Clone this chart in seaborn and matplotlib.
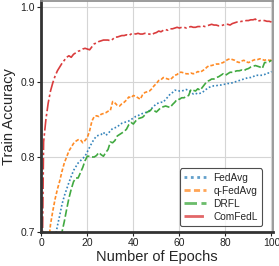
import numpy as np
import pandas as pd
import matplotlib
matplotlib.use("Agg")
import matplotlib.pyplot as plt
import seaborn as sns

# epochs 0..100
epochs = list(range(101))

fedavg = [
    0.500, 0.550, 0.590, 0.620, 0.650, 0.670, 0.692, 0.708, 0.722, 0.737,
    0.748, 0.757, 0.766, 0.774, 0.782, 0.787, 0.792, 0.795, 0.798, 0.801,
    0.807, 0.813, 0.819, 0.824, 0.828, 0.829, 0.830, 0.833, 0.829, 0.831,
    0.835, 0.838, 0.839, 0.840, 0.843, 0.845, 0.846, 0.847, 0.848, 0.850,
    0.852, 0.854, 0.855, 0.857, 0.858, 0.859, 0.860, 0.862, 0.865, 0.868,
    0.871, 0.872, 0.873, 0.873, 0.877, 0.880, 0.884, 0.886, 0.889, 0.889,
    0.888, 0.888, 0.889, 0.890, 0.889, 0.887, 0.884, 0.885, 0.884, 0.885,
    0.886, 0.889, 0.891, 0.893, 0.894, 0.895, 0.895, 0.896, 0.896, 0.897,
    0.897, 0.898, 0.898, 0.899, 0.900, 0.901, 0.902, 0.903, 0.904, 0.905,
    0.906, 0.906, 0.907, 0.909, 0.909, 0.909, 0.909, 0.910, 0.912, 0.912,
    0.914,
]

qfedavg = [
    0.550, 0.600, 0.640, 0.680, 0.710, 0.728, 0.744, 0.757, 0.768, 0.781,
    0.792, 0.800, 0.808, 0.813, 0.818, 0.821, 0.823, 0.823, 0.819, 0.822,
    0.826, 0.835, 0.848, 0.854, 0.855, 0.854, 0.857, 0.858, 0.859, 0.861,
    0.862, 0.874, 0.872, 0.869, 0.868, 0.871, 0.873, 0.876, 0.880, 0.879,
    0.882, 0.881, 0.879, 0.877, 0.883, 0.886, 0.887, 0.888, 0.891, 0.895,
    0.898, 0.902, 0.903, 0.906, 0.905, 0.904, 0.903, 0.906, 0.909, 0.910,
    0.913, 0.913, 0.912, 0.911, 0.911, 0.912, 0.911, 0.912, 0.914, 0.913,
    0.915, 0.917, 0.920, 0.922, 0.922, 0.923, 0.924, 0.924, 0.925, 0.926,
    0.928, 0.930, 0.931, 0.930, 0.929, 0.927, 0.926, 0.928, 0.929, 0.927,
    0.926, 0.927, 0.929, 0.930, 0.930, 0.931, 0.930, 0.929, 0.930, 0.929,
    0.929,
]

drfl = [
    0.500, 0.520, 0.540, 0.560, 0.580, 0.600, 0.620, 0.650, 0.675, 0.700,
    0.714, 0.730, 0.745, 0.757, 0.767, 0.772, 0.772, 0.779, 0.786, 0.795,
    0.801, 0.801, 0.800, 0.800, 0.802, 0.806, 0.803, 0.801, 0.806, 0.810,
    0.820, 0.819, 0.822, 0.828, 0.830, 0.832, 0.834, 0.837, 0.843, 0.846,
    0.844, 0.848, 0.851, 0.852, 0.853, 0.856, 0.860, 0.861, 0.864, 0.862,
    0.860, 0.863, 0.866, 0.867, 0.868, 0.867, 0.866, 0.870, 0.873, 0.877,
    0.877, 0.879, 0.879, 0.881, 0.882, 0.890, 0.889, 0.888, 0.891, 0.889,
    0.893, 0.897, 0.901, 0.902, 0.904, 0.904, 0.906, 0.907, 0.909, 0.911,
    0.909, 0.911, 0.913, 0.913, 0.914, 0.915, 0.915, 0.916, 0.915, 0.917,
    0.918, 0.920, 0.921, 0.922, 0.921, 0.920, 0.918, 0.926, 0.926, 0.927,
    0.929,
]

comfedl = [
    0.550, 0.820, 0.850, 0.872, 0.888, 0.899, 0.908, 0.915, 0.920, 0.925,
    0.929, 0.933, 0.935, 0.933, 0.937, 0.939, 0.941, 0.942, 0.944, 0.945,
    0.944, 0.943, 0.947, 0.951, 0.952, 0.954, 0.955, 0.956, 0.956, 0.956,
    0.955, 0.957, 0.960, 0.960, 0.961, 0.962, 0.962, 0.963, 0.962, 0.964,
    0.965, 0.964, 0.965, 0.964, 0.964, 0.965, 0.964, 0.964, 0.963, 0.965,
    0.966, 0.968, 0.967, 0.969, 0.970, 0.969, 0.971, 0.971, 0.972, 0.973,
    0.972, 0.973, 0.973, 0.972, 0.973, 0.974, 0.973, 0.973, 0.974, 0.974,
    0.975, 0.974, 0.975, 0.976, 0.977, 0.976, 0.976, 0.975, 0.975, 0.976,
    0.977, 0.977, 0.976, 0.978, 0.979, 0.980, 0.980, 0.981, 0.981, 0.982,
    0.982, 0.983, 0.983, 0.984, 0.981, 0.982, 0.982, 0.982, 0.981, 0.981,
    0.980,
]

labels = ["FedAvg", "q-FedAvg", "DRFL", "ComFedL"]
series = [fedavg, qfedavg, drfl, comfedl]
colors = ["#1f77b4", "#ff7f0e", "#2ca02c", "#d62728"]
styles = [(0, (1, 1.3)), (0, (2.2, 1.2)), (0, (4.5, 1.6)), (0, (7, 1.6, 1.5, 1.6))]

sns.set_style("whitegrid")
plt.rcParams["font.family"] = ["Liberation Sans", "DejaVu Sans"]

fig = plt.figure(figsize=(2.79, 2.66), dpi=100)
ax = fig.add_axes([0.148, 0.128, 0.830, 0.868])

for lab, vals, c, ls in zip(labels, series, colors, styles):
    sns.lineplot(x=epochs, y=vals, ax=ax, color=c, linestyle=ls,
                 linewidth=1.2, alpha=0.9, label=lab)

ax.set_xlim(0, 100.6)
ax.set_ylim(0.7, 1.008)
ax.set_xticks([0, 20, 40, 60, 80, 100])
ax.set_yticks([0.7, 0.8, 0.9, 1.0])
ax.tick_params(axis="both", labelsize=7.5, length=3, width=0.8,
               colors="#222222", pad=1.5, left=True, bottom=True)
ax.set_xlabel("Number of Epochs", fontsize=10.5, labelpad=1)
ax.set_ylabel("Train Accuracy", fontsize=10.5, labelpad=3)
ax.grid(True, color="#d5d5d5", linewidth=0.8)

for side in ["left", "bottom"]:
    ax.spines[side].set_color("#333333")
    ax.spines[side].set_linewidth(2)
for side in ["top", "right"]:
    ax.spines[side].set_color("#8a8a8a")
    ax.spines[side].set_linewidth(1.2)

leg = ax.legend(loc="lower right", fontsize=7.3, frameon=True, fancybox=True,
                borderpad=0.4, handlelength=2.2, handletextpad=0.7,
                labelspacing=0.3, bbox_to_anchor=(0.975, 0.005))
leg.get_frame().set_edgecolor("#222222")
leg.get_frame().set_linewidth(0.8)
for line in leg.get_lines():
    line.set_linewidth(2)
    line.set_alpha(0.7)

fig.savefig("out.png", dpi=100)
